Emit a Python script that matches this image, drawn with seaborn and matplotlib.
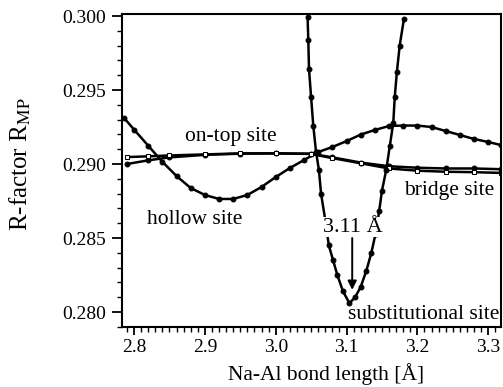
import matplotlib
matplotlib.use("Agg")
import matplotlib.pyplot as plt
from matplotlib.ticker import MultipleLocator, FormatStrFormatter
import seaborn as sns

# R-factor versus Na-Al bond length for the four adsorption sites
hollow_x = [2.786, 2.80, 2.82, 2.84, 2.86, 2.88, 2.90, 2.92, 2.94, 2.96, 2.98, 3.00,
            3.02, 3.04, 3.06, 3.08, 3.10, 3.12, 3.14, 3.16, 3.18, 3.20, 3.22, 3.24,
            3.26, 3.28, 3.30, 3.318]
hollow_r = [0.29311, 0.29233, 0.29124, 0.29015, 0.28919, 0.28838, 0.28791, 0.28764,
            0.28764, 0.28791, 0.28845, 0.28912, 0.28973, 0.29027, 0.29081, 0.29115,
            0.29155, 0.29199, 0.29230, 0.29257, 0.29260, 0.29260, 0.29250, 0.29223,
            0.29196, 0.29169, 0.29149, 0.29128]

ontop_x = [2.79, 2.82, 2.85, 2.90, 2.95, 3.00, 3.05, 3.08, 3.12, 3.16, 3.20, 3.24, 3.28, 3.318]
ontop_r = [0.29000, 0.29025, 0.29045, 0.29062, 0.29070, 0.29072, 0.29070, 0.29045,
           0.29010, 0.28985, 0.28975, 0.28970, 0.28970, 0.28965]

bridge_x = [2.79, 2.82, 2.85, 2.90, 2.95, 3.00, 3.05, 3.08, 3.12, 3.16, 3.20, 3.24, 3.28, 3.318]
bridge_r = [0.29047, 0.29052, 0.29058, 0.29065, 0.29072, 0.29072, 0.29068, 0.29040,
            0.29005, 0.28970, 0.28955, 0.28948, 0.28945, 0.28940]

subst_x = [3.045, 3.046, 3.047, 3.050, 3.053, 3.057, 3.061, 3.064, 3.070, 3.075, 3.081,
           3.087, 3.095, 3.104, 3.112, 3.120, 3.128, 3.135, 3.141, 3.146, 3.150, 3.156,
           3.161, 3.166, 3.168, 3.171, 3.175, 3.181]
subst_r = [0.29990, 0.29840, 0.29640, 0.29450, 0.29260, 0.29080, 0.28960, 0.28800,
           0.28620, 0.28450, 0.28350, 0.28250, 0.28140, 0.28060, 0.28100, 0.28170,
           0.28280, 0.28400, 0.28530, 0.28680, 0.28820, 0.28960, 0.29120, 0.29280,
           0.29450, 0.29620, 0.29800, 0.29980]

best_length = 3.11

sns.set_style("ticks")
plt.rcParams["font.family"] = ["Liberation Serif", "DejaVu Serif"]
plt.rcParams["mathtext.fontset"] = "stix"
plt.rcParams["text.color"] = "black"
plt.rcParams["axes.labelcolor"] = "black"

fig = plt.figure(figsize=(5.03, 3.87), dpi=100)
ax = fig.add_axes([0.2425, 0.155, 0.7535, 0.809])

line_kw = dict(color="black", linewidth=1.8, markersize=3.5, markeredgecolor="black",
               ax=ax, legend=False)
sns.lineplot(x=hollow_x, y=hollow_r, marker="o", **line_kw)
sns.lineplot(x=ontop_x, y=ontop_r, marker="o", **line_kw)
sns.lineplot(x=bridge_x, y=bridge_r, marker="s", markerfacecolor="white", **line_kw)
sns.lineplot(x=subst_x, y=subst_r, marker="o", sort=False, **line_kw)

ax.set_xlim(2.783, 3.318)
ax.set_ylim(0.27899, 0.30014)
ax.xaxis.set_major_locator(MultipleLocator(0.1))
ax.xaxis.set_minor_locator(MultipleLocator(0.01))
ax.yaxis.set_major_locator(MultipleLocator(0.005))
ax.yaxis.set_minor_locator(MultipleLocator(0.001))
ax.xaxis.set_major_formatter(FormatStrFormatter("%.1f"))
ax.yaxis.set_major_formatter(FormatStrFormatter("%.3f"))
ax.tick_params(which="major", direction="out", width=1.3, labelsize=14, colors="black")
ax.tick_params(axis="x", which="major", length=6, pad=2.5)
ax.tick_params(axis="y", which="major", length=7.5, pad=4)
ax.tick_params(which="minor", direction="out", length=3.5, width=1.0, colors="black")
for s in ax.spines.values():
    s.set_linewidth(1.5)
    s.set_color("black")

ax.set_xlabel("Na-Al bond length [Å]", fontsize=15.5, va="bottom")
ax.xaxis.set_label_coords(0.538, -0.186)
ax.set_ylabel(r"R-factor R$_{\mathrm{MP}}$", fontsize=18)
ax.yaxis.set_label_coords(-0.235, 0.52)

txt = dict(fontsize=15.5, color="black")
ax.text(2.936, 0.29189, "on-top site", ha="center", va="center", **txt)
ax.text(2.818, 0.28622, "hollow site", ha="left", va="center", **txt)
ax.text(3.181, 0.28824, "bridge site", ha="left", va="center", **txt)
ax.text(3.102, 0.27985, "substitutional site", ha="left", va="center", **txt)
ax.text(3.109, 0.28574, f"{best_length:.2f} Å", ha="center", va="center", fontsize=16,
        bbox=dict(facecolor="white", edgecolor="none", pad=0.5), zorder=5)
ax.annotate("", xy=(3.108, 0.2815), xytext=(3.108, 0.2850),
            arrowprops=dict(arrowstyle="-|>", color="black", lw=1.4,
                            shrinkA=0, shrinkB=0, mutation_scale=13))

fig.savefig("out.png", dpi=100)
